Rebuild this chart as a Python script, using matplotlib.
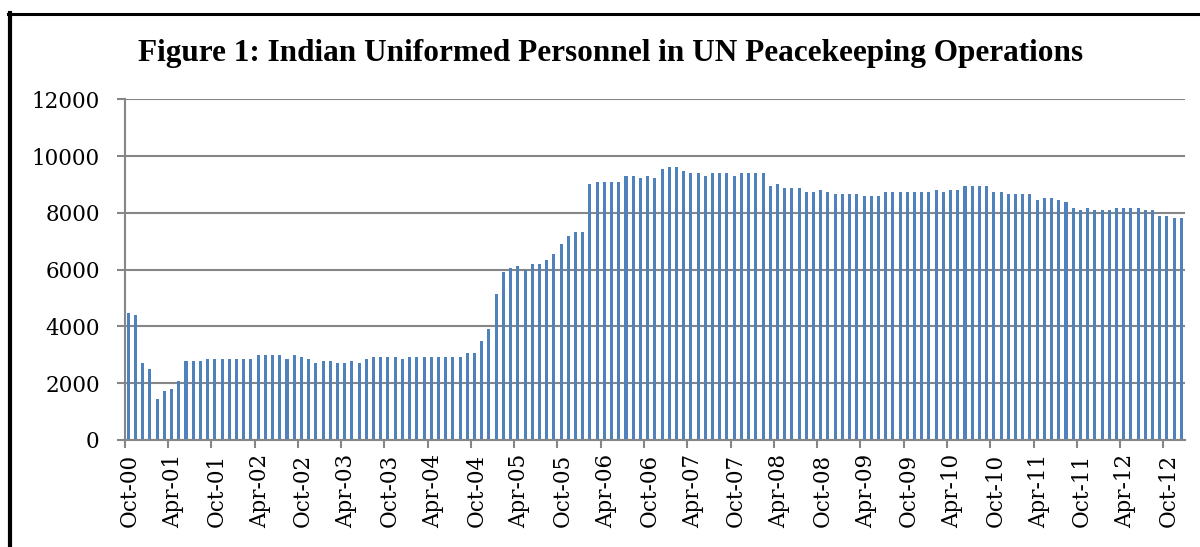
import matplotlib
matplotlib.use("Agg")
import matplotlib.pyplot as plt
from matplotlib.lines import Line2D
import numpy as np
import pandas as pd

# Monthly categories: Oct-2000 .. Dec-2012
months = pd.date_range("2000-10-01", "2012-12-01", freq="MS")

personnel = [
    4490, 4420, 2720, 2510, 1440, 1730, 1800, 2080, 2790, 2790,
    2790, 2860, 2860, 2860, 2860, 2860, 2860, 2860, 3000, 3000,
    3000, 3000, 2860, 3000, 2930, 2860, 2720, 2790, 2790, 2720,
    2720, 2790, 2720, 2860, 2930, 2930, 2930, 2930, 2860, 2930,
    2930, 2930, 2930, 2930, 2930, 2930, 2930, 3070, 3070, 3500,
    3920, 5130, 5910, 6050, 6120, 5980, 6190, 6190, 6340, 6550,
    6900, 7190, 7330, 7330, 9030, 9100, 9100, 9100, 9100, 9310,
    9310, 9240, 9310, 9240, 9530, 9600, 9600, 9460, 9390, 9390,
    9310, 9390, 9390, 9390, 9310, 9390, 9390, 9390, 9390, 8960,
    9030, 8890, 8890, 8890, 8750, 8750, 8820, 8750, 8680, 8680,
    8680, 8680, 8610, 8610, 8610, 8750, 8750, 8750, 8750, 8750,
    8750, 8750, 8820, 8750, 8820, 8820, 8960, 8960, 8960, 8960,
    8750, 8750, 8680, 8680, 8680, 8680, 8460, 8530, 8530, 8460,
    8390, 8180, 8110, 8180, 8110, 8110, 8110, 8180, 8180, 8180,
    8180, 8110, 8110, 7900, 7900, 7830, 7830,
]

tick_labels = [
    "Oct-00", "Apr-01", "Oct-01", "Apr-02", "Oct-02", "Apr-03", "Oct-03",
    "Apr-04", "Oct-04", "Apr-05", "Oct-05", "Apr-06", "Oct-06", "Apr-07",
    "Oct-07", "Apr-08", "Oct-08", "Apr-09", "Oct-09", "Apr-10", "Oct-10",
    "Apr-11", "Oct-11", "Apr-12", "Oct-12",
]
y_ticks = [0, 2000, 4000, 6000, 8000, 10000, 12000]

title = "Figure 1: Indian Uniformed Personnel in UN Peacekeeping Operations"

W, H = 1200, 547
fig = plt.figure(figsize=(W / 100, H / 100), dpi=100)
fig.patch.set_facecolor("white")

ax = fig.add_axes([124.7 / W, 1 - 440 / H, (1185 - 124.7) / W, (440 - 99.3) / H])

grey = "#868686"
x = np.arange(len(personnel))
ax.bar(x, personnel, width=0.42, color="#4F81BD", zorder=3)

ax.set_xlim(-0.5, len(personnel) - 0.5)
ax.set_ylim(0, 12000)
ax.set_yticks(y_ticks)
ax.set_yticklabels([str(v) for v in y_ticks])
ax.yaxis.grid(True, color=grey, linewidth=1.5, zorder=0)
ax.set_axisbelow(True)

# major ticks: tick marks on category boundaries every 6 months
tick_pos = np.arange(0, len(personnel), 6) - 0.5
ax.set_xticks(tick_pos)
ax.set_xticklabels([""] * len(tick_pos))
ax.tick_params(axis="x", which="major", length=6, width=1.5, color=grey, direction="out")
# minor ticks carry the labels
ax.set_xticks(tick_pos + 0.75, minor=True)
ax.set_xticklabels(tick_labels, minor=True, rotation=90, fontsize=15.5,
                   family="DejaVu Serif")
ax.tick_params(axis="x", which="minor", length=0, pad=10)

ax.tick_params(axis="y", length=6, width=1.5, color=grey, direction="out", pad=12,
               labelsize=15.5)
for lab in ax.get_yticklabels():
    lab.set_family("DejaVu Serif")

for s in ["top", "right"]:
    ax.spines[s].set_visible(False)
for s in ["left", "bottom"]:
    ax.spines[s].set_color(grey)
    ax.spines[s].set_linewidth(1.5)
    ax.spines[s].set_zorder(4)

fig.text(611 / W, 1 - 54 / H, title, ha="center", va="center",
         fontsize=22.5, fontweight="bold", family="Liberation Serif")

# outer frame (top and left visible)
fig.add_artist(Line2D([8 / W, 1.0], [1 - 14 / H, 1 - 14 / H],
                      transform=fig.transFigure, color="black", linewidth=2.2))
fig.add_artist(Line2D([10 / W, 10 / W], [1 - 13 / H, 0.0],
                      transform=fig.transFigure, color="black", linewidth=3.0))

fig.savefig("out.png", dpi=100)
